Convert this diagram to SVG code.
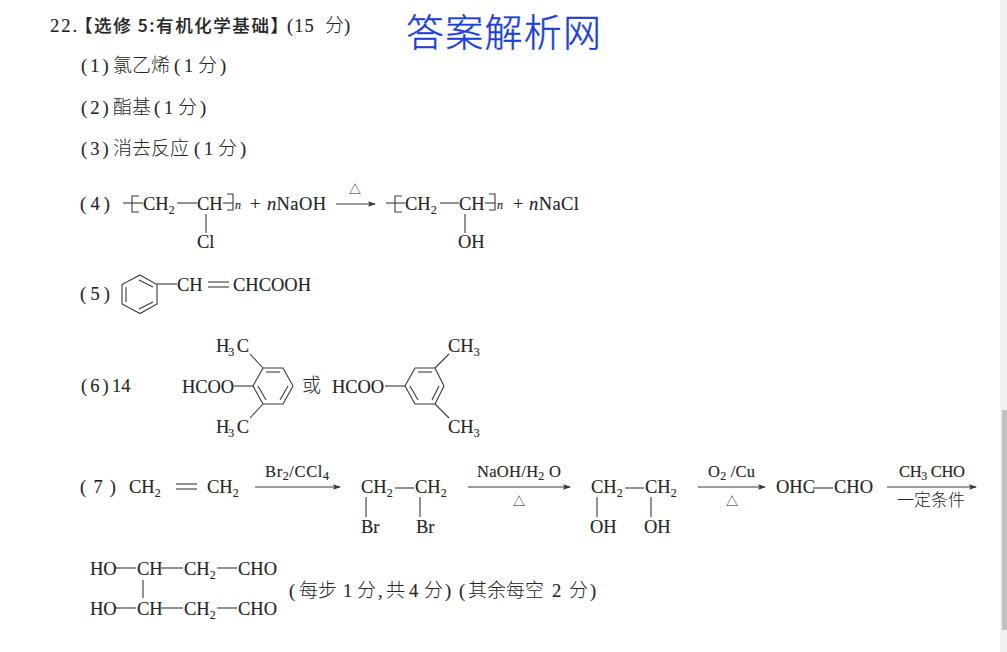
<svg xmlns="http://www.w3.org/2000/svg" width="1007" height="652" viewBox="0 0 1007 652">
<style>
text{font-family:"Liberation Serif","Noto Sans CJK SC",serif;font-size:18.5px;fill:#262626;stroke:#262626;stroke-width:.15}
.s{font-size:12px}
.sm{font-size:16.5px}
.cn{font-family:"Noto Sans CJK SC",sans-serif;font-weight:300;font-size:19px;stroke-width:0}
.p{letter-spacing:3px}
.b{font-family:"Noto Sans CJK SC",sans-serif;font-weight:500;font-size:17.5px}
.i{font-style:italic}
.t{font-size:12px;text-anchor:middle;stroke-width:0}
.mark{font-family:"Noto Sans CJK SC",sans-serif;font-size:38px;font-weight:300;fill:#1c3fd6;stroke:#1c3fd6;stroke-width:.4;letter-spacing:2px}
line,polyline,polygon{stroke:#3a3a3a;stroke-width:1.1;fill:none}
.ah{fill:#3a3a3a;stroke:none}
</style>
<defs>
<marker id="arr" viewBox="0 0 8 6" refX="7" refY="3" markerWidth="8" markerHeight="6" markerUnits="userSpaceOnUse" orient="auto"><path class="ah" d="M0,0.3L8,3L0,5.7L1.5,3Z"/></marker>
</defs>
<rect width="1007" height="652" fill="#fff"/>
<rect x="1000" y="0" width="7" height="652" fill="#f1f1f1"/>
<rect x="1002" y="410" width="5" height="220" fill="#c1c1c1"/>

<g id="title">
<text x="50" y="32" textLength="27">22.</text>
<text class="b" x="75" y="32" textLength="213">【选修 5:有机化学基础】</text>
<text x="287" y="32"><tspan style="letter-spacing:1px">(15</tspan><tspan class="cn" x="325">分</tspan><tspan x="344">)</tspan></text>
</g>
<text class="mark" x="406" y="46" textLength="197">答案解析网</text>

<g id="a1"><text x="81" y="72"><tspan class="p">(1)</tspan><tspan class="cn" x="113">氯乙烯</tspan><tspan x="174">(</tspan><tspan x="184">1</tspan><tspan class="cn" x="198">分</tspan><tspan x="220">)</tspan></text></g>
<g id="a2"><text x="81" y="114"><tspan class="p">(2)</tspan><tspan class="cn" x="113">酯基</tspan><tspan x="154">(</tspan><tspan x="164">1</tspan><tspan class="cn" x="178">分</tspan><tspan x="200">)</tspan></text></g>
<g id="a3"><text x="81" y="155"><tspan class="p">(3)</tspan><tspan class="cn" x="113">消去反应</tspan><tspan x="194">(</tspan><tspan x="204">1</tspan><tspan class="cn" x="218">分</tspan><tspan x="240">)</tspan></text></g>

<g id="a4">
<text x="80" y="210" textLength="30">(4)</text>
<text x="143" y="210">CH<tspan class="s" dy="4">2</tspan></text>
<text x="197" y="210">CH</text>
<text class="s i" x="235" y="209">n</text>
<text x="250" y="210">+</text>
<text x="267" y="210" textLength="59"><tspan class="i">n</tspan>NaOH</text>
<text class="t" x="355" y="194">△</text>
<text x="405" y="210">CH<tspan class="s" dy="4">2</tspan></text>
<text x="459" y="210">CH</text>
<text class="s i" x="497" y="209">n</text>
<text x="513" y="210">+</text>
<text x="529" y="210" textLength="50"><tspan class="i">n</tspan>NaCl</text>
<text x="197" y="248">Cl</text>
<text x="458" y="248">OH</text>
</g>

<g id="a5">
<text x="80" y="300" textLength="30">(5)</text>
<text x="177" y="291">CH</text>
<text x="233" y="291" textLength="78">CHCOOH</text>
<polygon points="140,275 157,284.5 157,304 140,313.5 122,304 122,284.5"/>
<line x1="126" y1="287" x2="126" y2="302"/>
<line x1="139" y1="280" x2="153" y2="287"/>
<line x1="139" y1="309" x2="153" y2="302"/>
</g>

<g id="a6">
<text x="81" y="392"><tspan class="p">(6)</tspan><tspan x="112">14</tspan></text>
<text x="216" y="352" textLength="33">H<tspan class="s" dy="4">3</tspan><tspan dy="-4"> C</tspan></text>
<text x="182" y="393" textLength="52">HCOO</text>
<text x="216" y="433" textLength="33">H<tspan class="s" dy="4">3</tspan><tspan dy="-4"> C</tspan></text>
<polygon points="263,368 283,368 293,386 283,404 263,404 253,386"/>
<line x1="266" y1="372" x2="280" y2="372"/>
<line x1="288" y1="386" x2="280" y2="400"/>
<line x1="258" y1="386" x2="266" y2="400"/>
<line x1="234" y1="386" x2="253" y2="386"/>
<line x1="250" y1="354" x2="263" y2="368"/>
<line x1="250" y1="418" x2="263" y2="404"/>
<text class="cn" x="302" y="392">或</text>
<text x="332" y="393" textLength="52">HCOO</text>
<text x="448" y="352">CH<tspan class="s" dy="4">3</tspan></text>
<text x="448" y="433">CH<tspan class="s" dy="4">3</tspan></text>
<polygon points="415,368 435,368 444,386 435,404 415,404 405,386"/>
<line x1="418" y1="372" x2="432" y2="372"/>
<line x1="439" y1="386" x2="432" y2="400"/>
<line x1="410" y1="386" x2="418" y2="400"/>
<line x1="385" y1="386" x2="405" y2="386"/>
<line x1="435" y1="368" x2="449" y2="354"/>
<line x1="435" y1="404" x2="449" y2="418"/>
</g>

<g id="a7">
<text x="80" y="493" textLength="36">(7)</text>
<text x="129" y="493">CH<tspan class="s" dy="4">2</tspan></text>
<text x="207" y="493">CH<tspan class="s" dy="4">2</tspan></text>
<text class="sm" x="265" y="477" textLength="64">Br<tspan class="s" dy="3">2</tspan><tspan dy="-3">/CCl</tspan><tspan class="s" dy="3">4</tspan></text>
<text x="361" y="493">CH<tspan class="s" dy="4">2</tspan></text>
<text x="415" y="493">CH<tspan class="s" dy="4">2</tspan></text>
<text x="361" y="533">Br</text>
<text x="416" y="533">Br</text>
<text class="sm" x="477" y="477" textLength="84">NaOH/H<tspan class="s" dy="3">2</tspan><tspan dy="-3"> O</tspan></text>
<text class="t" x="519" y="506">△</text>
<text x="591" y="493">CH<tspan class="s" dy="4">2</tspan></text>
<text x="645" y="493">CH<tspan class="s" dy="4">2</tspan></text>
<text x="590" y="533">OH</text>
<text x="644" y="533">OH</text>
<text class="sm" x="708" y="477" textLength="47">O<tspan class="s" dy="3">2</tspan><tspan dy="-3"> /Cu</tspan></text>
<text class="t" x="732" y="506">△</text>
<text x="776" y="493">OHC</text>
<text x="834" y="493">CHO</text>
<text class="sm" x="899" y="477" textLength="66">CH<tspan class="s" dy="3">3</tspan><tspan dy="-3"> CHO</tspan></text>
<text class="cn" style="font-size:17px" x="897" y="506">一定条件</text>
</g>

<g id="a8">
<text x="90" y="575">HO</text>
<text x="137" y="575">CH</text>
<text x="184" y="575">CH<tspan class="s" dy="4">2</tspan></text>
<text x="238" y="575">CHO</text>
<text x="90" y="615">HO</text>
<text x="137" y="615">CH</text>
<text x="184" y="615">CH<tspan class="s" dy="4">2</tspan></text>
<text x="238" y="615">CHO</text>
<text x="289" y="597"><tspan>(</tspan><tspan class="cn" x="299">每步</tspan><tspan x="343">1</tspan><tspan class="cn" x="357">分</tspan><tspan x="378">,</tspan><tspan class="cn" x="386">共</tspan><tspan x="409">4</tspan><tspan class="cn" x="424">分</tspan><tspan x="445">)</tspan><tspan x="459">(</tspan><tspan class="cn" x="468">其余每空</tspan><tspan x="552">2</tspan><tspan class="cn" x="569">分</tspan><tspan x="590">)</tspan></text>
</g>

<g id="connectors">
<line x1="123" y1="203" x2="143" y2="203"/><polyline points="139,196 132,196 132,212 139,212"/>
<line x1="177" y1="203" x2="197" y2="203"/>
<line x1="223" y1="203" x2="233" y2="203"/><polyline points="227,194 233,194 233,210 227,210"/>
<line x1="206" y1="214" x2="206" y2="233"/>
<line x1="336" y1="204" x2="375" y2="204" marker-end="url(#arr)"/>
<line x1="386" y1="203" x2="405" y2="203"/><polyline points="402,196 395,196 395,212 402,212"/>
<line x1="440" y1="203" x2="459" y2="203"/>
<line x1="485" y1="203" x2="495" y2="203"/><polyline points="489,194 495,194 495,210 489,210"/>
<line x1="465" y1="214" x2="465" y2="233"/>
<line x1="157" y1="284" x2="177" y2="284"/>
<line x1="208" y1="282" x2="229" y2="282"/><line x1="208" y1="287" x2="229" y2="287"/>
<line x1="176" y1="484" x2="197" y2="484"/><line x1="176" y1="489" x2="197" y2="489"/>
<line x1="255" y1="487" x2="340" y2="487" marker-end="url(#arr)"/>
<line x1="395" y1="488" x2="414" y2="488"/>
<line x1="366" y1="497" x2="366" y2="517"/><line x1="420" y1="497" x2="420" y2="517"/>
<line x1="468" y1="487" x2="570" y2="487" marker-end="url(#arr)"/>
<line x1="625" y1="488" x2="644" y2="488"/>
<line x1="597" y1="497" x2="597" y2="517"/><line x1="651" y1="497" x2="651" y2="517"/>
<line x1="698" y1="487" x2="765" y2="487" marker-end="url(#arr)"/>
<line x1="813" y1="488" x2="833" y2="488"/>
<line x1="887" y1="487" x2="976" y2="487" marker-end="url(#arr)"/>
<line x1="114" y1="568" x2="136" y2="568"/><line x1="161" y1="568" x2="183" y2="568"/><line x1="217" y1="568" x2="237" y2="568"/>
<line x1="114" y1="608" x2="136" y2="608"/><line x1="161" y1="608" x2="183" y2="608"/><line x1="217" y1="608" x2="237" y2="608"/>
<line x1="143" y1="580" x2="143" y2="598"/>
</g>
</svg>
